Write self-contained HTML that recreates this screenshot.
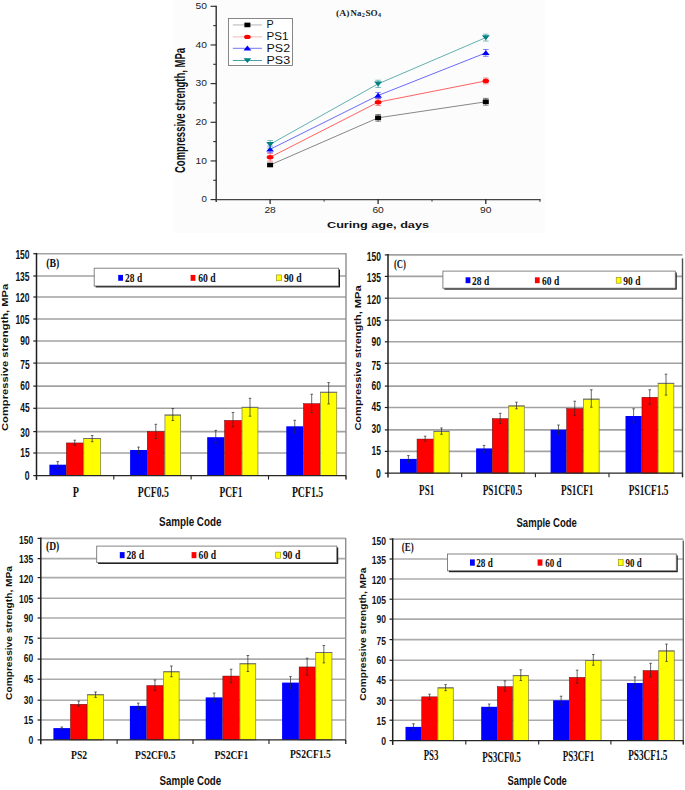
<!DOCTYPE html>
<html><head><meta charset="utf-8"><title>Compressive strength charts</title>
<style>html,body{margin:0;padding:0;background:#fff;}body{width:685px;height:790px;overflow:hidden;font-family:"Liberation Sans",sans-serif;}svg{display:block;}</style></head><body>

<svg width="685" height="790" viewBox="0 0 685 790">
<rect x="0" y="0" width="685" height="790" fill="#ffffff" stroke="none" stroke-width="0"/>
<rect x="174" y="0" width="370.5" height="233" fill="#fcfcfc" stroke="none" stroke-width="0"/>
<line x1="216.2" y1="5.7" x2="216.2" y2="201.9" stroke="#222" stroke-width="1.3"/>
<line x1="215.6" y1="199.6" x2="540.3" y2="199.6" stroke="#444" stroke-width="1.3"/>
<line x1="540" y1="199" x2="540" y2="201.8" stroke="#444" stroke-width="1.2"/>
<line x1="210.6" y1="199.6" x2="216.2" y2="199.6" stroke="#222" stroke-width="1.1"/>
<text x="207" y="202.2" font-family="'Liberation Sans', sans-serif" font-size="8.6" font-weight="normal" text-anchor="end" fill="#222" textLength="5.4" lengthAdjust="spacingAndGlyphs">0</text>
<line x1="210.6" y1="160.94" x2="216.2" y2="160.94" stroke="#222" stroke-width="1.1"/>
<text x="207" y="163.54" font-family="'Liberation Sans', sans-serif" font-size="8.6" font-weight="normal" text-anchor="end" fill="#222" textLength="11.4" lengthAdjust="spacingAndGlyphs">10</text>
<line x1="210.6" y1="122.28" x2="216.2" y2="122.28" stroke="#222" stroke-width="1.1"/>
<text x="207" y="124.88" font-family="'Liberation Sans', sans-serif" font-size="8.6" font-weight="normal" text-anchor="end" fill="#222" textLength="11.4" lengthAdjust="spacingAndGlyphs">20</text>
<line x1="210.6" y1="83.62" x2="216.2" y2="83.62" stroke="#222" stroke-width="1.1"/>
<text x="207" y="86.22" font-family="'Liberation Sans', sans-serif" font-size="8.6" font-weight="normal" text-anchor="end" fill="#222" textLength="11.4" lengthAdjust="spacingAndGlyphs">30</text>
<line x1="210.6" y1="44.96" x2="216.2" y2="44.96" stroke="#222" stroke-width="1.1"/>
<text x="207" y="47.56" font-family="'Liberation Sans', sans-serif" font-size="8.6" font-weight="normal" text-anchor="end" fill="#222" textLength="11.4" lengthAdjust="spacingAndGlyphs">40</text>
<line x1="210.6" y1="6.3" x2="216.2" y2="6.3" stroke="#222" stroke-width="1.1"/>
<text x="207" y="8.9" font-family="'Liberation Sans', sans-serif" font-size="8.6" font-weight="normal" text-anchor="end" fill="#222" textLength="11.4" lengthAdjust="spacingAndGlyphs">50</text>
<line x1="213.2" y1="180.27" x2="216.2" y2="180.27" stroke="#222" stroke-width="1"/>
<line x1="213.2" y1="141.61" x2="216.2" y2="141.61" stroke="#222" stroke-width="1"/>
<line x1="213.2" y1="102.95" x2="216.2" y2="102.95" stroke="#222" stroke-width="1"/>
<line x1="213.2" y1="64.29" x2="216.2" y2="64.29" stroke="#222" stroke-width="1"/>
<line x1="213.2" y1="25.63" x2="216.2" y2="25.63" stroke="#222" stroke-width="1"/>
<line x1="270.1" y1="199.6" x2="270.1" y2="203.9" stroke="#1a1a1a" stroke-width="1.2"/>
<line x1="378.1" y1="199.6" x2="378.1" y2="203.9" stroke="#1a1a1a" stroke-width="1.2"/>
<line x1="485.8" y1="199.6" x2="485.8" y2="203.9" stroke="#1a1a1a" stroke-width="1.2"/>
<line x1="324.1" y1="199.6" x2="324.1" y2="201.6" stroke="#333" stroke-width="1"/>
<line x1="432" y1="199.6" x2="432" y2="201.6" stroke="#333" stroke-width="1"/>
<text x="270.1" y="212.8" font-family="'Liberation Sans', sans-serif" font-size="8.2" font-weight="normal" text-anchor="middle" fill="#222" textLength="11.4" lengthAdjust="spacingAndGlyphs">28</text>
<text x="378.1" y="212.8" font-family="'Liberation Sans', sans-serif" font-size="8.2" font-weight="normal" text-anchor="middle" fill="#222" textLength="11.4" lengthAdjust="spacingAndGlyphs">60</text>
<text x="485.8" y="212.8" font-family="'Liberation Sans', sans-serif" font-size="8.2" font-weight="normal" text-anchor="middle" fill="#222" textLength="11.4" lengthAdjust="spacingAndGlyphs">90</text>
<text x="327" y="228" font-family="'Liberation Sans', sans-serif" font-size="9.3" font-weight="bold" text-anchor="start" fill="#111" textLength="102" lengthAdjust="spacingAndGlyphs">Curing age, days</text>
<text transform="translate(185.4,110.5) rotate(-90)" x="0" y="0" font-family="'Liberation Sans', sans-serif" font-size="14" font-weight="bold" text-anchor="middle" fill="#111" textLength="125" lengthAdjust="spacingAndGlyphs">Compressive strength, MPa</text>
<text x="336" y="16.4" font-family="'Liberation Serif', serif" font-size="8.6" font-weight="bold" text-anchor="start" fill="#222" textLength="13.4" lengthAdjust="spacingAndGlyphs">(A)</text>
<text x="350.6" y="16.4" font-family="'Liberation Serif', serif" font-size="8.6" font-weight="bold" text-anchor="start" fill="#222" textLength="10.8" lengthAdjust="spacingAndGlyphs">Na</text>
<text x="361.7" y="17.4" font-family="'Liberation Serif', serif" font-size="5.4" font-weight="bold" text-anchor="start" fill="#222" textLength="3.1" lengthAdjust="spacingAndGlyphs">2</text>
<text x="365.5" y="16.4" font-family="'Liberation Serif', serif" font-size="8.6" font-weight="bold" text-anchor="start" fill="#222" textLength="12.2" lengthAdjust="spacingAndGlyphs">SO</text>
<text x="377.9" y="17.4" font-family="'Liberation Serif', serif" font-size="5.4" font-weight="bold" text-anchor="start" fill="#222" textLength="3" lengthAdjust="spacingAndGlyphs">4</text>
<polyline points="270.1,165 378.1,117.83 485.8,101.79" fill="none" stroke="#555555" stroke-width="0.7"/>
<polyline points="270.1,157.27 378.1,102.18 485.8,80.91" fill="none" stroke="#ff2020" stroke-width="0.7"/>
<polyline points="270.1,149.34 378.1,95.49 485.8,52.89" fill="none" stroke="#2a2aff" stroke-width="0.7"/>
<polyline points="270.1,144.32 378.1,83.85 485.8,37.61" fill="none" stroke="#208f8f" stroke-width="0.7"/>
<line x1="270.1" y1="163.84" x2="270.1" y2="166.16" stroke="#000000" stroke-width="0.7" opacity="0.7"/>
<line x1="267.3" y1="163.84" x2="272.9" y2="163.84" stroke="#000000" stroke-width="0.8" opacity="0.6"/>
<line x1="267.3" y1="166.16" x2="272.9" y2="166.16" stroke="#000000" stroke-width="0.8" opacity="0.6"/>
<rect x="267.1" y="162.7" width="6" height="4.6" fill="#000000" stroke="none" stroke-width="0"/>
<line x1="378.1" y1="114.47" x2="378.1" y2="121.2" stroke="#000000" stroke-width="0.7" opacity="0.7"/>
<line x1="375.3" y1="114.47" x2="380.9" y2="114.47" stroke="#000000" stroke-width="0.8" opacity="0.6"/>
<line x1="375.3" y1="121.2" x2="380.9" y2="121.2" stroke="#000000" stroke-width="0.8" opacity="0.6"/>
<rect x="375.1" y="115.53" width="6" height="4.6" fill="#000000" stroke="none" stroke-width="0"/>
<line x1="485.8" y1="98.39" x2="485.8" y2="105.19" stroke="#000000" stroke-width="0.7" opacity="0.7"/>
<line x1="483" y1="98.39" x2="488.6" y2="98.39" stroke="#000000" stroke-width="0.8" opacity="0.6"/>
<line x1="483" y1="105.19" x2="488.6" y2="105.19" stroke="#000000" stroke-width="0.8" opacity="0.6"/>
<rect x="482.8" y="99.49" width="6" height="4.6" fill="#000000" stroke="none" stroke-width="0"/>
<line x1="270.1" y1="153.4" x2="270.1" y2="161.13" stroke="#ff0000" stroke-width="0.7" opacity="0.7"/>
<line x1="267.3" y1="153.4" x2="272.9" y2="153.4" stroke="#ff0000" stroke-width="0.8" opacity="0.6"/>
<line x1="267.3" y1="161.13" x2="272.9" y2="161.13" stroke="#ff0000" stroke-width="0.8" opacity="0.6"/>
<ellipse cx="270.1" cy="157.27" rx="3.3" ry="2.2" fill="#ff0000"/>
<line x1="378.1" y1="98.97" x2="378.1" y2="105.39" stroke="#ff0000" stroke-width="0.7" opacity="0.7"/>
<line x1="375.3" y1="98.97" x2="380.9" y2="98.97" stroke="#ff0000" stroke-width="0.8" opacity="0.6"/>
<line x1="375.3" y1="105.39" x2="380.9" y2="105.39" stroke="#ff0000" stroke-width="0.8" opacity="0.6"/>
<ellipse cx="378.1" cy="102.18" rx="3.3" ry="2.2" fill="#ff0000"/>
<line x1="485.8" y1="78.05" x2="485.8" y2="83.77" stroke="#ff0000" stroke-width="0.7" opacity="0.7"/>
<line x1="483" y1="78.05" x2="488.6" y2="78.05" stroke="#ff0000" stroke-width="0.8" opacity="0.6"/>
<line x1="483" y1="83.77" x2="488.6" y2="83.77" stroke="#ff0000" stroke-width="0.8" opacity="0.6"/>
<ellipse cx="485.8" cy="80.91" rx="3.3" ry="2.2" fill="#ff0000"/>
<line x1="270.1" y1="146.06" x2="270.1" y2="152.63" stroke="#0000ff" stroke-width="0.7" opacity="0.7"/>
<line x1="267.3" y1="146.06" x2="272.9" y2="146.06" stroke="#0000ff" stroke-width="0.8" opacity="0.6"/>
<line x1="267.3" y1="152.63" x2="272.9" y2="152.63" stroke="#0000ff" stroke-width="0.8" opacity="0.6"/>
<polygon points="270.1,146.64 266.2,151.54 274,151.54" fill="#0000ff"/>
<line x1="378.1" y1="92.4" x2="378.1" y2="98.58" stroke="#0000ff" stroke-width="0.7" opacity="0.7"/>
<line x1="375.3" y1="92.4" x2="380.9" y2="92.4" stroke="#0000ff" stroke-width="0.8" opacity="0.6"/>
<line x1="375.3" y1="98.58" x2="380.9" y2="98.58" stroke="#0000ff" stroke-width="0.8" opacity="0.6"/>
<polygon points="378.1,92.79 374.2,97.69 382,97.69" fill="#0000ff"/>
<line x1="485.8" y1="49.48" x2="485.8" y2="56.29" stroke="#0000ff" stroke-width="0.7" opacity="0.7"/>
<line x1="483" y1="49.48" x2="488.6" y2="49.48" stroke="#0000ff" stroke-width="0.8" opacity="0.6"/>
<line x1="483" y1="56.29" x2="488.6" y2="56.29" stroke="#0000ff" stroke-width="0.8" opacity="0.6"/>
<polygon points="485.8,50.19 481.9,55.09 489.7,55.09" fill="#0000ff"/>
<line x1="270.1" y1="140.45" x2="270.1" y2="148.18" stroke="#008080" stroke-width="0.7" opacity="0.7"/>
<line x1="267.3" y1="140.45" x2="272.9" y2="140.45" stroke="#008080" stroke-width="0.8" opacity="0.6"/>
<line x1="267.3" y1="148.18" x2="272.9" y2="148.18" stroke="#008080" stroke-width="0.8" opacity="0.6"/>
<polygon points="266.2,142.02 274,142.02 270.1,146.92" fill="#008080"/>
<line x1="378.1" y1="80.22" x2="378.1" y2="87.49" stroke="#008080" stroke-width="0.7" opacity="0.7"/>
<line x1="375.3" y1="80.22" x2="380.9" y2="80.22" stroke="#008080" stroke-width="0.8" opacity="0.6"/>
<line x1="375.3" y1="87.49" x2="380.9" y2="87.49" stroke="#008080" stroke-width="0.8" opacity="0.6"/>
<polygon points="374.2,81.55 382,81.55 378.1,86.45" fill="#008080"/>
<line x1="485.8" y1="34.17" x2="485.8" y2="41.06" stroke="#008080" stroke-width="0.7" opacity="0.7"/>
<line x1="483" y1="34.17" x2="488.6" y2="34.17" stroke="#008080" stroke-width="0.8" opacity="0.6"/>
<line x1="483" y1="41.06" x2="488.6" y2="41.06" stroke="#008080" stroke-width="0.8" opacity="0.6"/>
<polygon points="481.9,35.31 489.7,35.31 485.8,40.21" fill="#008080"/>
<rect x="228.4" y="18.4" width="64.2" height="47.1" fill="#ffffff" stroke="#6a6a6a" stroke-width="0.8"/>
<line x1="232.8" y1="24.95" x2="262" y2="24.95" stroke="#aaaaaa" stroke-width="0.9"/>
<rect x="244.4" y="22.65" width="6" height="4.6" fill="#000000" stroke="none" stroke-width="0"/>
<text x="266.5" y="28.45" font-family="'Liberation Sans', sans-serif" font-size="10.2" font-weight="normal" text-anchor="start" fill="#111" textLength="7.2" lengthAdjust="spacingAndGlyphs">P</text>
<line x1="232.8" y1="36.9" x2="262" y2="36.9" stroke="#f4b0b0" stroke-width="0.9"/>
<ellipse cx="247.4" cy="36.9" rx="3.3" ry="2.2" fill="#ff0000"/>
<text x="266.5" y="40.4" font-family="'Liberation Sans', sans-serif" font-size="10.2" font-weight="normal" text-anchor="start" fill="#111" textLength="22" lengthAdjust="spacingAndGlyphs">PS1</text>
<line x1="232.8" y1="48.3" x2="262" y2="48.3" stroke="#6666ee" stroke-width="0.9"/>
<polygon points="247.4,45.6 243.5,50.5 251.3,50.5" fill="#0000ff"/>
<text x="266.5" y="51.8" font-family="'Liberation Sans', sans-serif" font-size="10.2" font-weight="normal" text-anchor="start" fill="#111" textLength="23.6" lengthAdjust="spacingAndGlyphs">PS2</text>
<line x1="232.8" y1="60.5" x2="262" y2="60.5" stroke="#3a9a9a" stroke-width="0.9"/>
<polygon points="243.5,58.2 251.3,58.2 247.4,63.1" fill="#008080"/>
<text x="266.5" y="64" font-family="'Liberation Sans', sans-serif" font-size="10.2" font-weight="normal" text-anchor="start" fill="#111" textLength="23.6" lengthAdjust="spacingAndGlyphs">PS3</text>
<line x1="36.5" y1="453" x2="346" y2="453" stroke="#a2a2a2" stroke-width="1.6"/>
<line x1="36.5" y1="431.6" x2="346" y2="431.6" stroke="#a2a2a2" stroke-width="1.6"/>
<line x1="36.5" y1="408.3" x2="346" y2="408.3" stroke="#a2a2a2" stroke-width="1.6"/>
<line x1="36.5" y1="386.1" x2="346" y2="386.1" stroke="#a2a2a2" stroke-width="1.6"/>
<line x1="36.5" y1="363.1" x2="346" y2="363.1" stroke="#a2a2a2" stroke-width="1.6"/>
<line x1="36.5" y1="341" x2="346" y2="341" stroke="#a2a2a2" stroke-width="1.6"/>
<line x1="36.5" y1="319" x2="346" y2="319" stroke="#a2a2a2" stroke-width="1.6"/>
<line x1="36.5" y1="297" x2="346" y2="297" stroke="#a2a2a2" stroke-width="1.6"/>
<line x1="36.5" y1="276" x2="346" y2="276" stroke="#a2a2a2" stroke-width="1.6"/>
<line x1="36.5" y1="253.7" x2="346" y2="253.7" stroke="#a2a2a2" stroke-width="1.6"/>
<line x1="346" y1="253.2" x2="346" y2="479.6" stroke="#8e8e8e" stroke-width="1.4"/>
<rect x="95.6" y="269.6" width="244.4" height="17.8" fill="#0a0a0a" stroke="none" stroke-width="0"/>
<rect x="94.2" y="268.2" width="244.4" height="17.8" fill="#ffffff" stroke="#777" stroke-width="0.9"/>
<rect x="118.2" y="274.9" width="4.8" height="5.9" fill="#0000ff" stroke="none" stroke-width="0"/>
<text x="125.1" y="282" font-family="'Liberation Serif', serif" font-size="13.2" font-weight="bold" text-anchor="start" fill="#111" textLength="17.1" lengthAdjust="spacingAndGlyphs">28 d</text>
<rect x="190.6" y="274.9" width="4.8" height="5.9" fill="#ff0000" stroke="none" stroke-width="0"/>
<text x="198.2" y="282" font-family="'Liberation Serif', serif" font-size="13.2" font-weight="bold" text-anchor="start" fill="#111" textLength="17.4" lengthAdjust="spacingAndGlyphs">60 d</text>
<rect x="276.6" y="274.9" width="4.8" height="5.9" fill="#ffff00" stroke="#8a8a20" stroke-width="0.6"/>
<text x="284" y="282" font-family="'Liberation Serif', serif" font-size="13.2" font-weight="bold" text-anchor="start" fill="#111" textLength="17.6" lengthAdjust="spacingAndGlyphs">90 d</text>
<rect x="49.4" y="464.7" width="16.7" height="10.9" fill="#0000ff" stroke="none" stroke-width="0"/>
<line x1="57.75" y1="461.6" x2="57.75" y2="468.3" stroke="#2a2a2a" stroke-width="0.7"/>
<line x1="56.45" y1="461.6" x2="59.05" y2="461.6" stroke="#2a2a2a" stroke-width="0.7"/>
<line x1="56.45" y1="468.3" x2="59.05" y2="468.3" stroke="#2a2a2a" stroke-width="0.7"/>
<rect x="66.35" y="442.95" width="16.8" height="32.65" fill="#ff0000" stroke="#5a1010" stroke-width="0.5"/>
<line x1="74.75" y1="440.2" x2="74.75" y2="445.2" stroke="#2a2a2a" stroke-width="0.7"/>
<line x1="73.45" y1="440.2" x2="76.05" y2="440.2" stroke="#2a2a2a" stroke-width="0.7"/>
<line x1="73.45" y1="445.2" x2="76.05" y2="445.2" stroke="#2a2a2a" stroke-width="0.7"/>
<rect x="83.75" y="438.65" width="16.9" height="36.95" fill="#ffff00" stroke="#7a7a40" stroke-width="0.7"/>
<line x1="83.4" y1="438.5" x2="101" y2="438.5" stroke="#707070" stroke-width="1"/>
<line x1="92.2" y1="435.5" x2="92.2" y2="441.7" stroke="#2a2a2a" stroke-width="0.7"/>
<line x1="90.9" y1="435.5" x2="93.5" y2="435.5" stroke="#2a2a2a" stroke-width="0.7"/>
<line x1="90.9" y1="441.7" x2="93.5" y2="441.7" stroke="#2a2a2a" stroke-width="0.7"/>
<rect x="130.1" y="450" width="16.9" height="25.6" fill="#0000ff" stroke="none" stroke-width="0"/>
<line x1="138.55" y1="447.1" x2="138.55" y2="453.4" stroke="#2a2a2a" stroke-width="0.7"/>
<line x1="137.25" y1="447.1" x2="139.85" y2="447.1" stroke="#2a2a2a" stroke-width="0.7"/>
<line x1="137.25" y1="453.4" x2="139.85" y2="453.4" stroke="#2a2a2a" stroke-width="0.7"/>
<rect x="147.25" y="431.55" width="17.1" height="44.05" fill="#ff0000" stroke="#5a1010" stroke-width="0.5"/>
<line x1="155.8" y1="424.3" x2="155.8" y2="438.5" stroke="#2a2a2a" stroke-width="0.7"/>
<line x1="154.5" y1="424.3" x2="157.1" y2="424.3" stroke="#2a2a2a" stroke-width="0.7"/>
<line x1="154.5" y1="438.5" x2="157.1" y2="438.5" stroke="#2a2a2a" stroke-width="0.7"/>
<rect x="164.95" y="415.15" width="15.7" height="60.45" fill="#ffff00" stroke="#7a7a40" stroke-width="0.7"/>
<line x1="164.6" y1="415" x2="181" y2="415" stroke="#707070" stroke-width="1"/>
<line x1="172.8" y1="408.5" x2="172.8" y2="420.5" stroke="#2a2a2a" stroke-width="0.7"/>
<line x1="171.5" y1="408.5" x2="174.1" y2="408.5" stroke="#2a2a2a" stroke-width="0.7"/>
<line x1="171.5" y1="420.5" x2="174.1" y2="420.5" stroke="#2a2a2a" stroke-width="0.7"/>
<rect x="207.2" y="437.2" width="17.1" height="38.4" fill="#0000ff" stroke="none" stroke-width="0"/>
<line x1="215.75" y1="430.4" x2="215.75" y2="443" stroke="#2a2a2a" stroke-width="0.7"/>
<line x1="214.45" y1="430.4" x2="217.05" y2="430.4" stroke="#2a2a2a" stroke-width="0.7"/>
<line x1="214.45" y1="443" x2="217.05" y2="443" stroke="#2a2a2a" stroke-width="0.7"/>
<rect x="224.55" y="420.35" width="16.9" height="55.25" fill="#ff0000" stroke="#5a1010" stroke-width="0.5"/>
<line x1="233" y1="412.5" x2="233" y2="426.8" stroke="#2a2a2a" stroke-width="0.7"/>
<line x1="231.7" y1="412.5" x2="234.3" y2="412.5" stroke="#2a2a2a" stroke-width="0.7"/>
<line x1="231.7" y1="426.8" x2="234.3" y2="426.8" stroke="#2a2a2a" stroke-width="0.7"/>
<rect x="242.05" y="407.45" width="15.9" height="68.15" fill="#ffff00" stroke="#7a7a40" stroke-width="0.7"/>
<line x1="241.7" y1="407.3" x2="258.3" y2="407.3" stroke="#707070" stroke-width="1"/>
<line x1="250" y1="398.3" x2="250" y2="416.2" stroke="#2a2a2a" stroke-width="0.7"/>
<line x1="248.7" y1="398.3" x2="251.3" y2="398.3" stroke="#2a2a2a" stroke-width="0.7"/>
<line x1="248.7" y1="416.2" x2="251.3" y2="416.2" stroke="#2a2a2a" stroke-width="0.7"/>
<rect x="286.3" y="426.3" width="16.9" height="49.3" fill="#0000ff" stroke="none" stroke-width="0"/>
<line x1="294.75" y1="420.3" x2="294.75" y2="432.8" stroke="#2a2a2a" stroke-width="0.7"/>
<line x1="293.45" y1="420.3" x2="296.05" y2="420.3" stroke="#2a2a2a" stroke-width="0.7"/>
<line x1="293.45" y1="432.8" x2="296.05" y2="432.8" stroke="#2a2a2a" stroke-width="0.7"/>
<rect x="303.45" y="403.65" width="16.5" height="71.95" fill="#ff0000" stroke="#5a1010" stroke-width="0.5"/>
<line x1="311.7" y1="394.2" x2="311.7" y2="412.6" stroke="#2a2a2a" stroke-width="0.7"/>
<line x1="310.4" y1="394.2" x2="313" y2="394.2" stroke="#2a2a2a" stroke-width="0.7"/>
<line x1="310.4" y1="412.6" x2="313" y2="412.6" stroke="#2a2a2a" stroke-width="0.7"/>
<rect x="320.55" y="392.35" width="16.2" height="83.25" fill="#ffff00" stroke="#7a7a40" stroke-width="0.7"/>
<line x1="320.2" y1="392.2" x2="337.1" y2="392.2" stroke="#707070" stroke-width="1"/>
<line x1="328.65" y1="382.6" x2="328.65" y2="403.9" stroke="#2a2a2a" stroke-width="0.7"/>
<line x1="327.35" y1="382.6" x2="329.95" y2="382.6" stroke="#2a2a2a" stroke-width="0.7"/>
<line x1="327.35" y1="403.9" x2="329.95" y2="403.9" stroke="#2a2a2a" stroke-width="0.7"/>
<line x1="36.5" y1="252.9" x2="36.5" y2="479.9" stroke="#1e1e1e" stroke-width="1.5"/>
<line x1="35.8" y1="475.6" x2="346" y2="475.6" stroke="#262626" stroke-width="1.3"/>
<line x1="33.3" y1="475.6" x2="36.5" y2="475.6" stroke="#1e1e1e" stroke-width="1.2"/>
<line x1="33.3" y1="453" x2="36.5" y2="453" stroke="#1e1e1e" stroke-width="1.2"/>
<line x1="33.3" y1="431.6" x2="36.5" y2="431.6" stroke="#1e1e1e" stroke-width="1.2"/>
<line x1="33.3" y1="408.3" x2="36.5" y2="408.3" stroke="#1e1e1e" stroke-width="1.2"/>
<line x1="33.3" y1="386.1" x2="36.5" y2="386.1" stroke="#1e1e1e" stroke-width="1.2"/>
<line x1="33.3" y1="363.1" x2="36.5" y2="363.1" stroke="#1e1e1e" stroke-width="1.2"/>
<line x1="33.3" y1="341" x2="36.5" y2="341" stroke="#1e1e1e" stroke-width="1.2"/>
<line x1="33.3" y1="319" x2="36.5" y2="319" stroke="#1e1e1e" stroke-width="1.2"/>
<line x1="33.3" y1="297" x2="36.5" y2="297" stroke="#1e1e1e" stroke-width="1.2"/>
<line x1="33.3" y1="276" x2="36.5" y2="276" stroke="#1e1e1e" stroke-width="1.2"/>
<line x1="33.3" y1="253.7" x2="36.5" y2="253.7" stroke="#1e1e1e" stroke-width="1.2"/>
<line x1="113.8" y1="475.6" x2="113.8" y2="479.6" stroke="#222" stroke-width="1.1"/>
<line x1="191.1" y1="475.6" x2="191.1" y2="479.6" stroke="#222" stroke-width="1.1"/>
<line x1="268.5" y1="475.6" x2="268.5" y2="479.6" stroke="#222" stroke-width="1.1"/>
<line x1="346" y1="475.6" x2="346" y2="479.6" stroke="#222" stroke-width="1.1"/>
<text x="29.6" y="480.1" font-family="'Liberation Sans', sans-serif" font-size="12" font-weight="bold" text-anchor="end" fill="#111" textLength="4.8" lengthAdjust="spacingAndGlyphs">0</text>
<text x="29.6" y="457.2" font-family="'Liberation Sans', sans-serif" font-size="12" font-weight="bold" text-anchor="end" fill="#111" textLength="9.4" lengthAdjust="spacingAndGlyphs">15</text>
<text x="29.6" y="436.6" font-family="'Liberation Sans', sans-serif" font-size="12" font-weight="bold" text-anchor="end" fill="#111" textLength="9.4" lengthAdjust="spacingAndGlyphs">30</text>
<text x="29.6" y="412.2" font-family="'Liberation Sans', sans-serif" font-size="12" font-weight="bold" text-anchor="end" fill="#111" textLength="9.4" lengthAdjust="spacingAndGlyphs">45</text>
<text x="29.6" y="390" font-family="'Liberation Sans', sans-serif" font-size="12" font-weight="bold" text-anchor="end" fill="#111" textLength="9.4" lengthAdjust="spacingAndGlyphs">60</text>
<text x="29.6" y="368.8" font-family="'Liberation Sans', sans-serif" font-size="12" font-weight="bold" text-anchor="end" fill="#111" textLength="9.4" lengthAdjust="spacingAndGlyphs">75</text>
<text x="29.6" y="345.1" font-family="'Liberation Sans', sans-serif" font-size="12" font-weight="bold" text-anchor="end" fill="#111" textLength="9.4" lengthAdjust="spacingAndGlyphs">90</text>
<text x="29.6" y="324.2" font-family="'Liberation Sans', sans-serif" font-size="12" font-weight="bold" text-anchor="end" fill="#111" textLength="14.2" lengthAdjust="spacingAndGlyphs">105</text>
<text x="29.6" y="302" font-family="'Liberation Sans', sans-serif" font-size="12" font-weight="bold" text-anchor="end" fill="#111" textLength="14.2" lengthAdjust="spacingAndGlyphs">120</text>
<text x="29.6" y="280.7" font-family="'Liberation Sans', sans-serif" font-size="12" font-weight="bold" text-anchor="end" fill="#111" textLength="14.2" lengthAdjust="spacingAndGlyphs">135</text>
<text x="29.6" y="259.4" font-family="'Liberation Sans', sans-serif" font-size="12" font-weight="bold" text-anchor="end" fill="#111" textLength="14.2" lengthAdjust="spacingAndGlyphs">150</text>
<text transform="translate(7.6,357.4) rotate(-90)" x="0" y="0" font-family="'Liberation Sans', sans-serif" font-size="8.8" font-weight="bold" text-anchor="middle" fill="#111" textLength="147.2" lengthAdjust="spacingAndGlyphs">Compressive strength, MPa</text>
<text x="46.3" y="267.2" font-family="'Liberation Serif', serif" font-size="12" font-weight="bold" text-anchor="start" fill="#111" textLength="13.1" lengthAdjust="spacingAndGlyphs">(B)</text>
<text x="72.8" y="497.4" font-family="'Liberation Serif', serif" font-size="14.2" font-weight="bold" text-anchor="start" fill="#111" textLength="6.2" lengthAdjust="spacingAndGlyphs">P</text>
<text x="137.7" y="497.2" font-family="'Liberation Serif', serif" font-size="14.2" font-weight="bold" text-anchor="start" fill="#111" textLength="31.2" lengthAdjust="spacingAndGlyphs">PCF0.5</text>
<text x="219.5" y="497" font-family="'Liberation Serif', serif" font-size="14.2" font-weight="bold" text-anchor="start" fill="#111" textLength="23" lengthAdjust="spacingAndGlyphs">PCF1</text>
<text x="291.9" y="497" font-family="'Liberation Serif', serif" font-size="14.2" font-weight="bold" text-anchor="start" fill="#111" textLength="31.2" lengthAdjust="spacingAndGlyphs">PCF1.5</text>
<text x="159.1" y="526" font-family="'Liberation Sans', sans-serif" font-size="12.6" font-weight="bold" text-anchor="start" fill="#111" textLength="62.4" lengthAdjust="spacingAndGlyphs">Sample Code</text>
<line x1="388" y1="451.4" x2="682.5" y2="451.4" stroke="#a2a2a2" stroke-width="1.6"/>
<line x1="388" y1="429.9" x2="682.5" y2="429.9" stroke="#a2a2a2" stroke-width="1.6"/>
<line x1="388" y1="407.5" x2="682.5" y2="407.5" stroke="#a2a2a2" stroke-width="1.6"/>
<line x1="388" y1="386.1" x2="682.5" y2="386.1" stroke="#a2a2a2" stroke-width="1.6"/>
<line x1="388" y1="363.3" x2="682.5" y2="363.3" stroke="#a2a2a2" stroke-width="1.6"/>
<line x1="388" y1="341.8" x2="682.5" y2="341.8" stroke="#a2a2a2" stroke-width="1.6"/>
<line x1="388" y1="320.2" x2="682.5" y2="320.2" stroke="#a2a2a2" stroke-width="1.6"/>
<line x1="388" y1="298.2" x2="682.5" y2="298.2" stroke="#a2a2a2" stroke-width="1.6"/>
<line x1="388" y1="276.4" x2="682.5" y2="276.4" stroke="#a2a2a2" stroke-width="1.6"/>
<line x1="388" y1="254.9" x2="682.5" y2="254.9" stroke="#a2a2a2" stroke-width="1.6"/>
<line x1="682.5" y1="258.4" x2="682.5" y2="477.2" stroke="#505050" stroke-width="1.4"/>
<rect x="444.3" y="272.5" width="232.4" height="17.1" fill="#0a0a0a" stroke="none" stroke-width="0"/>
<rect x="442.9" y="271.1" width="232.4" height="17.1" fill="#ffffff" stroke="#777" stroke-width="0.9"/>
<rect x="465.6" y="277.3" width="4.8" height="5.9" fill="#0000ff" stroke="none" stroke-width="0"/>
<text x="472.1" y="284.7" font-family="'Liberation Serif', serif" font-size="13.2" font-weight="bold" text-anchor="start" fill="#111" textLength="17.1" lengthAdjust="spacingAndGlyphs">28 d</text>
<rect x="534.9" y="277.3" width="4.8" height="5.9" fill="#ff0000" stroke="none" stroke-width="0"/>
<text x="542" y="284.7" font-family="'Liberation Serif', serif" font-size="13.2" font-weight="bold" text-anchor="start" fill="#111" textLength="17.2" lengthAdjust="spacingAndGlyphs">60 d</text>
<rect x="616.2" y="277.3" width="4.8" height="5.9" fill="#ffff00" stroke="#8a8a20" stroke-width="0.6"/>
<text x="623.3" y="284.7" font-family="'Liberation Serif', serif" font-size="13.2" font-weight="bold" text-anchor="start" fill="#111" textLength="17.1" lengthAdjust="spacingAndGlyphs">90 d</text>
<rect x="400" y="458.9" width="16.8" height="14.3" fill="#0000ff" stroke="none" stroke-width="0"/>
<line x1="408.4" y1="455.6" x2="408.4" y2="462.3" stroke="#2a2a2a" stroke-width="0.7"/>
<line x1="407.1" y1="455.6" x2="409.7" y2="455.6" stroke="#2a2a2a" stroke-width="0.7"/>
<line x1="407.1" y1="462.3" x2="409.7" y2="462.3" stroke="#2a2a2a" stroke-width="0.7"/>
<rect x="417.05" y="439.05" width="16.2" height="34.15" fill="#ff0000" stroke="#5a1010" stroke-width="0.5"/>
<line x1="425.15" y1="436.2" x2="425.15" y2="441.3" stroke="#2a2a2a" stroke-width="0.7"/>
<line x1="423.85" y1="436.2" x2="426.45" y2="436.2" stroke="#2a2a2a" stroke-width="0.7"/>
<line x1="423.85" y1="441.3" x2="426.45" y2="441.3" stroke="#2a2a2a" stroke-width="0.7"/>
<rect x="433.85" y="431.45" width="15.3" height="41.75" fill="#ffff00" stroke="#7a7a40" stroke-width="0.7"/>
<line x1="433.5" y1="431.3" x2="449.5" y2="431.3" stroke="#707070" stroke-width="1"/>
<line x1="441.5" y1="428" x2="441.5" y2="434.3" stroke="#2a2a2a" stroke-width="0.7"/>
<line x1="440.2" y1="428" x2="442.8" y2="428" stroke="#2a2a2a" stroke-width="0.7"/>
<line x1="440.2" y1="434.3" x2="442.8" y2="434.3" stroke="#2a2a2a" stroke-width="0.7"/>
<rect x="476.1" y="448.4" width="15.9" height="24.8" fill="#0000ff" stroke="none" stroke-width="0"/>
<line x1="484.05" y1="445.4" x2="484.05" y2="452.1" stroke="#2a2a2a" stroke-width="0.7"/>
<line x1="482.75" y1="445.4" x2="485.35" y2="445.4" stroke="#2a2a2a" stroke-width="0.7"/>
<line x1="482.75" y1="452.1" x2="485.35" y2="452.1" stroke="#2a2a2a" stroke-width="0.7"/>
<rect x="492.25" y="418.65" width="15.9" height="54.55" fill="#ff0000" stroke="#5a1010" stroke-width="0.5"/>
<line x1="500.2" y1="413.3" x2="500.2" y2="423.5" stroke="#2a2a2a" stroke-width="0.7"/>
<line x1="498.9" y1="413.3" x2="501.5" y2="413.3" stroke="#2a2a2a" stroke-width="0.7"/>
<line x1="498.9" y1="423.5" x2="501.5" y2="423.5" stroke="#2a2a2a" stroke-width="0.7"/>
<rect x="508.75" y="406.05" width="15.5" height="67.15" fill="#ffff00" stroke="#7a7a40" stroke-width="0.7"/>
<line x1="508.4" y1="405.9" x2="524.6" y2="405.9" stroke="#707070" stroke-width="1"/>
<line x1="516.5" y1="402.2" x2="516.5" y2="408.8" stroke="#2a2a2a" stroke-width="0.7"/>
<line x1="515.2" y1="402.2" x2="517.8" y2="402.2" stroke="#2a2a2a" stroke-width="0.7"/>
<line x1="515.2" y1="408.8" x2="517.8" y2="408.8" stroke="#2a2a2a" stroke-width="0.7"/>
<rect x="550.6" y="429.7" width="15.8" height="43.5" fill="#0000ff" stroke="none" stroke-width="0"/>
<line x1="558.5" y1="425" x2="558.5" y2="434.6" stroke="#2a2a2a" stroke-width="0.7"/>
<line x1="557.2" y1="425" x2="559.8" y2="425" stroke="#2a2a2a" stroke-width="0.7"/>
<line x1="557.2" y1="434.6" x2="559.8" y2="434.6" stroke="#2a2a2a" stroke-width="0.7"/>
<rect x="566.65" y="408.55" width="16.2" height="64.65" fill="#ff0000" stroke="#5a1010" stroke-width="0.5"/>
<line x1="574.75" y1="401.2" x2="574.75" y2="415.3" stroke="#2a2a2a" stroke-width="0.7"/>
<line x1="573.45" y1="401.2" x2="576.05" y2="401.2" stroke="#2a2a2a" stroke-width="0.7"/>
<line x1="573.45" y1="415.3" x2="576.05" y2="415.3" stroke="#2a2a2a" stroke-width="0.7"/>
<rect x="583.45" y="399.25" width="15.7" height="73.95" fill="#ffff00" stroke="#7a7a40" stroke-width="0.7"/>
<line x1="583.1" y1="399.1" x2="599.5" y2="399.1" stroke="#707070" stroke-width="1"/>
<line x1="591.3" y1="389.8" x2="591.3" y2="407.2" stroke="#2a2a2a" stroke-width="0.7"/>
<line x1="590" y1="389.8" x2="592.6" y2="389.8" stroke="#2a2a2a" stroke-width="0.7"/>
<line x1="590" y1="407.2" x2="592.6" y2="407.2" stroke="#2a2a2a" stroke-width="0.7"/>
<rect x="625.5" y="416" width="16.2" height="57.2" fill="#0000ff" stroke="none" stroke-width="0"/>
<line x1="633.6" y1="408.8" x2="633.6" y2="422.1" stroke="#2a2a2a" stroke-width="0.7"/>
<line x1="632.3" y1="408.8" x2="634.9" y2="408.8" stroke="#2a2a2a" stroke-width="0.7"/>
<line x1="632.3" y1="422.1" x2="634.9" y2="422.1" stroke="#2a2a2a" stroke-width="0.7"/>
<rect x="641.95" y="397.25" width="15.6" height="75.95" fill="#ff0000" stroke="#5a1010" stroke-width="0.5"/>
<line x1="649.75" y1="389.8" x2="649.75" y2="404.2" stroke="#2a2a2a" stroke-width="0.7"/>
<line x1="648.45" y1="389.8" x2="651.05" y2="389.8" stroke="#2a2a2a" stroke-width="0.7"/>
<line x1="648.45" y1="404.2" x2="651.05" y2="404.2" stroke="#2a2a2a" stroke-width="0.7"/>
<rect x="658.15" y="383.45" width="15.7" height="89.75" fill="#ffff00" stroke="#7a7a40" stroke-width="0.7"/>
<line x1="657.8" y1="383.3" x2="674.2" y2="383.3" stroke="#707070" stroke-width="1"/>
<line x1="666" y1="374.2" x2="666" y2="395.1" stroke="#2a2a2a" stroke-width="0.7"/>
<line x1="664.7" y1="374.2" x2="667.3" y2="374.2" stroke="#2a2a2a" stroke-width="0.7"/>
<line x1="664.7" y1="395.1" x2="667.3" y2="395.1" stroke="#2a2a2a" stroke-width="0.7"/>
<line x1="388" y1="254.1" x2="388" y2="477.5" stroke="#1e1e1e" stroke-width="1.5"/>
<line x1="387.3" y1="473.2" x2="682.5" y2="473.2" stroke="#262626" stroke-width="1.3"/>
<line x1="384.8" y1="473.2" x2="388" y2="473.2" stroke="#1e1e1e" stroke-width="1.2"/>
<line x1="384.8" y1="451.4" x2="388" y2="451.4" stroke="#1e1e1e" stroke-width="1.2"/>
<line x1="384.8" y1="429.9" x2="388" y2="429.9" stroke="#1e1e1e" stroke-width="1.2"/>
<line x1="384.8" y1="407.5" x2="388" y2="407.5" stroke="#1e1e1e" stroke-width="1.2"/>
<line x1="384.8" y1="386.1" x2="388" y2="386.1" stroke="#1e1e1e" stroke-width="1.2"/>
<line x1="384.8" y1="363.3" x2="388" y2="363.3" stroke="#1e1e1e" stroke-width="1.2"/>
<line x1="384.8" y1="341.8" x2="388" y2="341.8" stroke="#1e1e1e" stroke-width="1.2"/>
<line x1="384.8" y1="320.2" x2="388" y2="320.2" stroke="#1e1e1e" stroke-width="1.2"/>
<line x1="384.8" y1="298.2" x2="388" y2="298.2" stroke="#1e1e1e" stroke-width="1.2"/>
<line x1="384.8" y1="276.4" x2="388" y2="276.4" stroke="#1e1e1e" stroke-width="1.2"/>
<line x1="384.8" y1="254.9" x2="388" y2="254.9" stroke="#1e1e1e" stroke-width="1.2"/>
<line x1="461.7" y1="473.2" x2="461.7" y2="477.2" stroke="#222" stroke-width="1.1"/>
<line x1="535.4" y1="473.2" x2="535.4" y2="477.2" stroke="#222" stroke-width="1.1"/>
<line x1="609" y1="473.2" x2="609" y2="477.2" stroke="#222" stroke-width="1.1"/>
<line x1="682.5" y1="473.2" x2="682.5" y2="477.2" stroke="#222" stroke-width="1.1"/>
<text x="380.9" y="478.4" font-family="'Liberation Sans', sans-serif" font-size="12" font-weight="bold" text-anchor="end" fill="#111" textLength="4.8" lengthAdjust="spacingAndGlyphs">0</text>
<text x="380.9" y="455.4" font-family="'Liberation Sans', sans-serif" font-size="12" font-weight="bold" text-anchor="end" fill="#111" textLength="9.4" lengthAdjust="spacingAndGlyphs">15</text>
<text x="380.9" y="433" font-family="'Liberation Sans', sans-serif" font-size="12" font-weight="bold" text-anchor="end" fill="#111" textLength="9.4" lengthAdjust="spacingAndGlyphs">30</text>
<text x="380.9" y="411.3" font-family="'Liberation Sans', sans-serif" font-size="12" font-weight="bold" text-anchor="end" fill="#111" textLength="9.4" lengthAdjust="spacingAndGlyphs">45</text>
<text x="380.9" y="390.3" font-family="'Liberation Sans', sans-serif" font-size="12" font-weight="bold" text-anchor="end" fill="#111" textLength="9.4" lengthAdjust="spacingAndGlyphs">60</text>
<text x="380.9" y="369.5" font-family="'Liberation Sans', sans-serif" font-size="12" font-weight="bold" text-anchor="end" fill="#111" textLength="9.4" lengthAdjust="spacingAndGlyphs">75</text>
<text x="380.9" y="346.1" font-family="'Liberation Sans', sans-serif" font-size="12" font-weight="bold" text-anchor="end" fill="#111" textLength="9.4" lengthAdjust="spacingAndGlyphs">90</text>
<text x="380.9" y="325.7" font-family="'Liberation Sans', sans-serif" font-size="12" font-weight="bold" text-anchor="end" fill="#111" textLength="14.2" lengthAdjust="spacingAndGlyphs">105</text>
<text x="380.9" y="303.8" font-family="'Liberation Sans', sans-serif" font-size="12" font-weight="bold" text-anchor="end" fill="#111" textLength="14.2" lengthAdjust="spacingAndGlyphs">120</text>
<text x="380.9" y="281.6" font-family="'Liberation Sans', sans-serif" font-size="12" font-weight="bold" text-anchor="end" fill="#111" textLength="14.2" lengthAdjust="spacingAndGlyphs">135</text>
<text x="380.9" y="260.9" font-family="'Liberation Sans', sans-serif" font-size="12" font-weight="bold" text-anchor="end" fill="#111" textLength="14.2" lengthAdjust="spacingAndGlyphs">150</text>
<text transform="translate(360.7,358.05) rotate(-90)" x="0" y="0" font-family="'Liberation Sans', sans-serif" font-size="8.8" font-weight="bold" text-anchor="middle" fill="#111" textLength="145.1" lengthAdjust="spacingAndGlyphs">Compressive strength, MPa</text>
<text x="393.9" y="268.3" font-family="'Liberation Serif', serif" font-size="12" font-weight="bold" text-anchor="start" fill="#111" textLength="12.1" lengthAdjust="spacingAndGlyphs">(C)</text>
<text x="419.1" y="495.4" font-family="'Liberation Serif', serif" font-size="13.8" font-weight="bold" text-anchor="start" fill="#111" textLength="15.1" lengthAdjust="spacingAndGlyphs">PS1</text>
<text x="482.7" y="494.9" font-family="'Liberation Serif', serif" font-size="13.8" font-weight="bold" text-anchor="start" fill="#111" textLength="39.4" lengthAdjust="spacingAndGlyphs">PS1CF0.5</text>
<text x="561" y="494.9" font-family="'Liberation Serif', serif" font-size="13.8" font-weight="bold" text-anchor="start" fill="#111" textLength="32.5" lengthAdjust="spacingAndGlyphs">PS1CF1</text>
<text x="628.8" y="494.6" font-family="'Liberation Serif', serif" font-size="13.8" font-weight="bold" text-anchor="start" fill="#111" textLength="39.6" lengthAdjust="spacingAndGlyphs">PS1CF1.5</text>
<text x="516.5" y="526.6" font-family="'Liberation Sans', sans-serif" font-size="12.6" font-weight="bold" text-anchor="start" fill="#111" textLength="60.4" lengthAdjust="spacingAndGlyphs">Sample Code</text>
<line x1="40.8" y1="720" x2="345.7" y2="720" stroke="#ababab" stroke-width="1.6"/>
<line x1="40.8" y1="700.2" x2="345.7" y2="700.2" stroke="#ababab" stroke-width="1.6"/>
<line x1="40.8" y1="679.2" x2="345.7" y2="679.2" stroke="#ababab" stroke-width="1.6"/>
<line x1="40.8" y1="659.1" x2="345.7" y2="659.1" stroke="#ababab" stroke-width="1.6"/>
<line x1="40.8" y1="638.2" x2="345.7" y2="638.2" stroke="#ababab" stroke-width="1.6"/>
<line x1="40.8" y1="618" x2="345.7" y2="618" stroke="#ababab" stroke-width="1.6"/>
<line x1="40.8" y1="598.2" x2="345.7" y2="598.2" stroke="#ababab" stroke-width="1.6"/>
<line x1="40.8" y1="577.6" x2="345.7" y2="577.6" stroke="#ababab" stroke-width="1.6"/>
<line x1="40.8" y1="558.6" x2="345.7" y2="558.6" stroke="#ababab" stroke-width="1.6"/>
<line x1="40.8" y1="538.4" x2="345.7" y2="538.4" stroke="#ababab" stroke-width="1.6"/>
<line x1="345.7" y1="537.9" x2="345.7" y2="743.9" stroke="#8e8e8e" stroke-width="1.4"/>
<rect x="98.1" y="547.5" width="240.1" height="16.4" fill="#0a0a0a" stroke="none" stroke-width="0"/>
<rect x="96.7" y="546.1" width="240.1" height="16.4" fill="#ffffff" stroke="#777" stroke-width="0.9"/>
<rect x="119.8" y="552.1" width="4.8" height="6.1" fill="#0000ff" stroke="none" stroke-width="0"/>
<text x="126.5" y="558.8" font-family="'Liberation Serif', serif" font-size="12.5" font-weight="bold" text-anchor="start" fill="#111" textLength="17.6" lengthAdjust="spacingAndGlyphs">28 d</text>
<rect x="191.6" y="552.1" width="4.8" height="6.1" fill="#ff0000" stroke="none" stroke-width="0"/>
<text x="198.6" y="558.8" font-family="'Liberation Serif', serif" font-size="12.5" font-weight="bold" text-anchor="start" fill="#111" textLength="17.4" lengthAdjust="spacingAndGlyphs">60 d</text>
<rect x="275.7" y="552.1" width="4.8" height="6.1" fill="#ffff00" stroke="#8a8a20" stroke-width="0.6"/>
<text x="282.7" y="558.8" font-family="'Liberation Serif', serif" font-size="12.5" font-weight="bold" text-anchor="start" fill="#111" textLength="17.7" lengthAdjust="spacingAndGlyphs">90 d</text>
<rect x="53.4" y="728.1" width="16.8" height="11.8" fill="#0000ff" stroke="none" stroke-width="0"/>
<line x1="61.8" y1="727" x2="61.8" y2="729.2" stroke="#2a2a2a" stroke-width="0.7"/>
<line x1="60.5" y1="727" x2="63.1" y2="727" stroke="#2a2a2a" stroke-width="0.7"/>
<line x1="60.5" y1="729.2" x2="63.1" y2="729.2" stroke="#2a2a2a" stroke-width="0.7"/>
<rect x="70.45" y="704.25" width="16.5" height="35.65" fill="#ff0000" stroke="#5a1010" stroke-width="0.5"/>
<line x1="78.7" y1="701.1" x2="78.7" y2="706.2" stroke="#2a2a2a" stroke-width="0.7"/>
<line x1="77.4" y1="701.1" x2="80" y2="701.1" stroke="#2a2a2a" stroke-width="0.7"/>
<line x1="77.4" y1="706.2" x2="80" y2="706.2" stroke="#2a2a2a" stroke-width="0.7"/>
<rect x="87.55" y="694.85" width="16" height="45.05" fill="#ffff00" stroke="#7a7a40" stroke-width="0.7"/>
<line x1="87.2" y1="694.7" x2="103.9" y2="694.7" stroke="#707070" stroke-width="1"/>
<line x1="95.55" y1="692" x2="95.55" y2="697.4" stroke="#2a2a2a" stroke-width="0.7"/>
<line x1="94.25" y1="692" x2="96.85" y2="692" stroke="#2a2a2a" stroke-width="0.7"/>
<line x1="94.25" y1="697.4" x2="96.85" y2="697.4" stroke="#2a2a2a" stroke-width="0.7"/>
<rect x="129.9" y="705.9" width="16.7" height="34" fill="#0000ff" stroke="none" stroke-width="0"/>
<line x1="138.25" y1="703.1" x2="138.25" y2="709.6" stroke="#2a2a2a" stroke-width="0.7"/>
<line x1="136.95" y1="703.1" x2="139.55" y2="703.1" stroke="#2a2a2a" stroke-width="0.7"/>
<line x1="136.95" y1="709.6" x2="139.55" y2="709.6" stroke="#2a2a2a" stroke-width="0.7"/>
<rect x="146.85" y="685.55" width="16.2" height="54.35" fill="#ff0000" stroke="#5a1010" stroke-width="0.5"/>
<line x1="154.95" y1="680" x2="154.95" y2="690.4" stroke="#2a2a2a" stroke-width="0.7"/>
<line x1="153.65" y1="680" x2="156.25" y2="680" stroke="#2a2a2a" stroke-width="0.7"/>
<line x1="153.65" y1="690.4" x2="156.25" y2="690.4" stroke="#2a2a2a" stroke-width="0.7"/>
<rect x="163.65" y="671.85" width="15.5" height="68.05" fill="#ffff00" stroke="#7a7a40" stroke-width="0.7"/>
<line x1="163.3" y1="671.7" x2="179.5" y2="671.7" stroke="#707070" stroke-width="1"/>
<line x1="171.4" y1="666" x2="171.4" y2="676.7" stroke="#2a2a2a" stroke-width="0.7"/>
<line x1="170.1" y1="666" x2="172.7" y2="666" stroke="#2a2a2a" stroke-width="0.7"/>
<line x1="170.1" y1="676.7" x2="172.7" y2="676.7" stroke="#2a2a2a" stroke-width="0.7"/>
<rect x="205.7" y="697.4" width="16.9" height="42.5" fill="#0000ff" stroke="none" stroke-width="0"/>
<line x1="214.15" y1="693.1" x2="214.15" y2="701.6" stroke="#2a2a2a" stroke-width="0.7"/>
<line x1="212.85" y1="693.1" x2="215.45" y2="693.1" stroke="#2a2a2a" stroke-width="0.7"/>
<line x1="212.85" y1="701.6" x2="215.45" y2="701.6" stroke="#2a2a2a" stroke-width="0.7"/>
<rect x="222.85" y="676.05" width="16.5" height="63.85" fill="#ff0000" stroke="#5a1010" stroke-width="0.5"/>
<line x1="231.1" y1="669.2" x2="231.1" y2="682.6" stroke="#2a2a2a" stroke-width="0.7"/>
<line x1="229.8" y1="669.2" x2="232.4" y2="669.2" stroke="#2a2a2a" stroke-width="0.7"/>
<line x1="229.8" y1="682.6" x2="232.4" y2="682.6" stroke="#2a2a2a" stroke-width="0.7"/>
<rect x="239.95" y="663.85" width="15.8" height="76.05" fill="#ffff00" stroke="#7a7a40" stroke-width="0.7"/>
<line x1="239.6" y1="663.7" x2="256.1" y2="663.7" stroke="#707070" stroke-width="1"/>
<line x1="247.85" y1="655.5" x2="247.85" y2="671.5" stroke="#2a2a2a" stroke-width="0.7"/>
<line x1="246.55" y1="655.5" x2="249.15" y2="655.5" stroke="#2a2a2a" stroke-width="0.7"/>
<line x1="246.55" y1="671.5" x2="249.15" y2="671.5" stroke="#2a2a2a" stroke-width="0.7"/>
<rect x="282.1" y="682.6" width="16.8" height="57.3" fill="#0000ff" stroke="none" stroke-width="0"/>
<line x1="290.5" y1="676.6" x2="290.5" y2="688.5" stroke="#2a2a2a" stroke-width="0.7"/>
<line x1="289.2" y1="676.6" x2="291.8" y2="676.6" stroke="#2a2a2a" stroke-width="0.7"/>
<line x1="289.2" y1="688.5" x2="291.8" y2="688.5" stroke="#2a2a2a" stroke-width="0.7"/>
<rect x="299.15" y="666.95" width="16" height="72.95" fill="#ff0000" stroke="#5a1010" stroke-width="0.5"/>
<line x1="307.15" y1="658.2" x2="307.15" y2="675.1" stroke="#2a2a2a" stroke-width="0.7"/>
<line x1="305.85" y1="658.2" x2="308.45" y2="658.2" stroke="#2a2a2a" stroke-width="0.7"/>
<line x1="305.85" y1="675.1" x2="308.45" y2="675.1" stroke="#2a2a2a" stroke-width="0.7"/>
<rect x="315.75" y="652.65" width="16.2" height="87.25" fill="#ffff00" stroke="#7a7a40" stroke-width="0.7"/>
<line x1="315.4" y1="652.5" x2="332.3" y2="652.5" stroke="#707070" stroke-width="1"/>
<line x1="323.85" y1="645.5" x2="323.85" y2="662.9" stroke="#2a2a2a" stroke-width="0.7"/>
<line x1="322.55" y1="645.5" x2="325.15" y2="645.5" stroke="#2a2a2a" stroke-width="0.7"/>
<line x1="322.55" y1="662.9" x2="325.15" y2="662.9" stroke="#2a2a2a" stroke-width="0.7"/>
<line x1="40.8" y1="537.6" x2="40.8" y2="744.2" stroke="#1e1e1e" stroke-width="1.5"/>
<line x1="40.1" y1="739.9" x2="345.7" y2="739.9" stroke="#262626" stroke-width="1.3"/>
<line x1="37.6" y1="739.9" x2="40.8" y2="739.9" stroke="#1e1e1e" stroke-width="1.2"/>
<line x1="37.6" y1="720" x2="40.8" y2="720" stroke="#1e1e1e" stroke-width="1.2"/>
<line x1="37.6" y1="700.2" x2="40.8" y2="700.2" stroke="#1e1e1e" stroke-width="1.2"/>
<line x1="37.6" y1="679.2" x2="40.8" y2="679.2" stroke="#1e1e1e" stroke-width="1.2"/>
<line x1="37.6" y1="659.1" x2="40.8" y2="659.1" stroke="#1e1e1e" stroke-width="1.2"/>
<line x1="37.6" y1="638.2" x2="40.8" y2="638.2" stroke="#1e1e1e" stroke-width="1.2"/>
<line x1="37.6" y1="618" x2="40.8" y2="618" stroke="#1e1e1e" stroke-width="1.2"/>
<line x1="37.6" y1="598.2" x2="40.8" y2="598.2" stroke="#1e1e1e" stroke-width="1.2"/>
<line x1="37.6" y1="577.6" x2="40.8" y2="577.6" stroke="#1e1e1e" stroke-width="1.2"/>
<line x1="37.6" y1="558.6" x2="40.8" y2="558.6" stroke="#1e1e1e" stroke-width="1.2"/>
<line x1="37.6" y1="538.4" x2="40.8" y2="538.4" stroke="#1e1e1e" stroke-width="1.2"/>
<line x1="117.1" y1="739.9" x2="117.1" y2="743.9" stroke="#222" stroke-width="1.1"/>
<line x1="193" y1="739.9" x2="193" y2="743.9" stroke="#222" stroke-width="1.1"/>
<line x1="269" y1="739.9" x2="269" y2="743.9" stroke="#222" stroke-width="1.1"/>
<line x1="345.7" y1="739.9" x2="345.7" y2="743.9" stroke="#222" stroke-width="1.1"/>
<text x="33.2" y="744.48" font-family="'Liberation Sans', sans-serif" font-size="10.8" font-weight="bold" text-anchor="end" fill="#111" textLength="4.8" lengthAdjust="spacingAndGlyphs">0</text>
<text x="33.2" y="723.68" font-family="'Liberation Sans', sans-serif" font-size="10.8" font-weight="bold" text-anchor="end" fill="#111" textLength="9.4" lengthAdjust="spacingAndGlyphs">15</text>
<text x="33.2" y="703.98" font-family="'Liberation Sans', sans-serif" font-size="10.8" font-weight="bold" text-anchor="end" fill="#111" textLength="9.4" lengthAdjust="spacingAndGlyphs">30</text>
<text x="33.2" y="682.58" font-family="'Liberation Sans', sans-serif" font-size="10.8" font-weight="bold" text-anchor="end" fill="#111" textLength="9.4" lengthAdjust="spacingAndGlyphs">45</text>
<text x="33.2" y="662.48" font-family="'Liberation Sans', sans-serif" font-size="10.8" font-weight="bold" text-anchor="end" fill="#111" textLength="9.4" lengthAdjust="spacingAndGlyphs">60</text>
<text x="33.2" y="643.78" font-family="'Liberation Sans', sans-serif" font-size="10.8" font-weight="bold" text-anchor="end" fill="#111" textLength="9.4" lengthAdjust="spacingAndGlyphs">75</text>
<text x="33.2" y="621.58" font-family="'Liberation Sans', sans-serif" font-size="10.8" font-weight="bold" text-anchor="end" fill="#111" textLength="9.4" lengthAdjust="spacingAndGlyphs">90</text>
<text x="33.2" y="602.78" font-family="'Liberation Sans', sans-serif" font-size="10.8" font-weight="bold" text-anchor="end" fill="#111" textLength="14.2" lengthAdjust="spacingAndGlyphs">105</text>
<text x="33.2" y="582.88" font-family="'Liberation Sans', sans-serif" font-size="10.8" font-weight="bold" text-anchor="end" fill="#111" textLength="14.2" lengthAdjust="spacingAndGlyphs">120</text>
<text x="33.2" y="563.38" font-family="'Liberation Sans', sans-serif" font-size="10.8" font-weight="bold" text-anchor="end" fill="#111" textLength="14.2" lengthAdjust="spacingAndGlyphs">135</text>
<text x="33.2" y="544.18" font-family="'Liberation Sans', sans-serif" font-size="10.8" font-weight="bold" text-anchor="end" fill="#111" textLength="14.2" lengthAdjust="spacingAndGlyphs">150</text>
<text transform="translate(11.8,633) rotate(-90)" x="0" y="0" font-family="'Liberation Sans', sans-serif" font-size="8.8" font-weight="bold" text-anchor="middle" fill="#111" textLength="133.8" lengthAdjust="spacingAndGlyphs">Compressive strength, MPa</text>
<text x="46" y="550" font-family="'Liberation Serif', serif" font-size="12" font-weight="bold" text-anchor="start" fill="#111" textLength="13.3" lengthAdjust="spacingAndGlyphs">(D)</text>
<text x="71.1" y="759.2" font-family="'Liberation Serif', serif" font-size="12.9" font-weight="bold" text-anchor="start" fill="#111" textLength="16.1" lengthAdjust="spacingAndGlyphs">PS2</text>
<text x="135.1" y="758.7" font-family="'Liberation Serif', serif" font-size="12.9" font-weight="bold" text-anchor="start" fill="#111" textLength="40.4" lengthAdjust="spacingAndGlyphs">PS2CF0.5</text>
<text x="214.4" y="759.2" font-family="'Liberation Serif', serif" font-size="12.9" font-weight="bold" text-anchor="start" fill="#111" textLength="34" lengthAdjust="spacingAndGlyphs">PS2CF1</text>
<text x="290" y="757.7" font-family="'Liberation Serif', serif" font-size="12.9" font-weight="bold" text-anchor="start" fill="#111" textLength="40.8" lengthAdjust="spacingAndGlyphs">PS2CF1.5</text>
<text x="159.6" y="784.6" font-family="'Liberation Sans', sans-serif" font-size="12.6" font-weight="bold" text-anchor="start" fill="#111" textLength="61.6" lengthAdjust="spacingAndGlyphs">Sample Code</text>
<line x1="392.7" y1="720.2" x2="683.3" y2="720.2" stroke="#ababab" stroke-width="1.6"/>
<line x1="392.7" y1="700.3" x2="683.3" y2="700.3" stroke="#ababab" stroke-width="1.6"/>
<line x1="392.7" y1="680.2" x2="683.3" y2="680.2" stroke="#ababab" stroke-width="1.6"/>
<line x1="392.7" y1="660.3" x2="683.3" y2="660.3" stroke="#ababab" stroke-width="1.6"/>
<line x1="392.7" y1="639.6" x2="683.3" y2="639.6" stroke="#ababab" stroke-width="1.6"/>
<line x1="392.7" y1="619.1" x2="683.3" y2="619.1" stroke="#ababab" stroke-width="1.6"/>
<line x1="392.7" y1="599.2" x2="683.3" y2="599.2" stroke="#ababab" stroke-width="1.6"/>
<line x1="392.7" y1="579" x2="683.3" y2="579" stroke="#ababab" stroke-width="1.6"/>
<line x1="392.7" y1="559" x2="683.3" y2="559" stroke="#ababab" stroke-width="1.6"/>
<line x1="392.7" y1="539.1" x2="683.3" y2="539.1" stroke="#ababab" stroke-width="1.6"/>
<line x1="683.3" y1="540.6" x2="683.3" y2="744.6" stroke="#636363" stroke-width="1.4"/>
<rect x="448.9" y="555.4" width="228.8" height="16.8" fill="#0a0a0a" stroke="none" stroke-width="0"/>
<rect x="447.5" y="554" width="228.8" height="16.8" fill="#ffffff" stroke="#777" stroke-width="0.9"/>
<rect x="470" y="559.4" width="4.8" height="6.3" fill="#0000ff" stroke="none" stroke-width="0"/>
<text x="476.3" y="567" font-family="'Liberation Serif', serif" font-size="12.5" font-weight="bold" text-anchor="start" fill="#111" textLength="16.5" lengthAdjust="spacingAndGlyphs">28 d</text>
<rect x="537.6" y="559.4" width="4.8" height="6.3" fill="#ff0000" stroke="none" stroke-width="0"/>
<text x="545.3" y="567" font-family="'Liberation Serif', serif" font-size="12.5" font-weight="bold" text-anchor="start" fill="#111" textLength="16.1" lengthAdjust="spacingAndGlyphs">60 d</text>
<rect x="618.3" y="559.4" width="4.8" height="6.3" fill="#ffff00" stroke="#8a8a20" stroke-width="0.6"/>
<text x="625.5" y="567" font-family="'Liberation Serif', serif" font-size="12.5" font-weight="bold" text-anchor="start" fill="#111" textLength="16.1" lengthAdjust="spacingAndGlyphs">90 d</text>
<rect x="405.5" y="726.9" width="16" height="13.7" fill="#0000ff" stroke="none" stroke-width="0"/>
<line x1="413.5" y1="723.8" x2="413.5" y2="729.9" stroke="#2a2a2a" stroke-width="0.7"/>
<line x1="412.2" y1="723.8" x2="414.8" y2="723.8" stroke="#2a2a2a" stroke-width="0.7"/>
<line x1="412.2" y1="729.9" x2="414.8" y2="729.9" stroke="#2a2a2a" stroke-width="0.7"/>
<rect x="421.75" y="696.85" width="15.6" height="43.75" fill="#ff0000" stroke="#5a1010" stroke-width="0.5"/>
<line x1="429.55" y1="694.2" x2="429.55" y2="699.3" stroke="#2a2a2a" stroke-width="0.7"/>
<line x1="428.25" y1="694.2" x2="430.85" y2="694.2" stroke="#2a2a2a" stroke-width="0.7"/>
<line x1="428.25" y1="699.3" x2="430.85" y2="699.3" stroke="#2a2a2a" stroke-width="0.7"/>
<rect x="437.95" y="687.95" width="15.3" height="52.65" fill="#ffff00" stroke="#7a7a40" stroke-width="0.7"/>
<line x1="437.6" y1="687.8" x2="453.6" y2="687.8" stroke="#707070" stroke-width="1"/>
<line x1="445.6" y1="684.6" x2="445.6" y2="690.7" stroke="#2a2a2a" stroke-width="0.7"/>
<line x1="444.3" y1="684.6" x2="446.9" y2="684.6" stroke="#2a2a2a" stroke-width="0.7"/>
<line x1="444.3" y1="690.7" x2="446.9" y2="690.7" stroke="#2a2a2a" stroke-width="0.7"/>
<rect x="481.2" y="706.8" width="15.9" height="33.8" fill="#0000ff" stroke="none" stroke-width="0"/>
<line x1="489.15" y1="704" x2="489.15" y2="709.9" stroke="#2a2a2a" stroke-width="0.7"/>
<line x1="487.85" y1="704" x2="490.45" y2="704" stroke="#2a2a2a" stroke-width="0.7"/>
<line x1="487.85" y1="709.9" x2="490.45" y2="709.9" stroke="#2a2a2a" stroke-width="0.7"/>
<rect x="497.35" y="686.65" width="15.2" height="53.95" fill="#ff0000" stroke="#5a1010" stroke-width="0.5"/>
<line x1="504.95" y1="680.9" x2="504.95" y2="691.1" stroke="#2a2a2a" stroke-width="0.7"/>
<line x1="503.65" y1="680.9" x2="506.25" y2="680.9" stroke="#2a2a2a" stroke-width="0.7"/>
<line x1="503.65" y1="691.1" x2="506.25" y2="691.1" stroke="#2a2a2a" stroke-width="0.7"/>
<rect x="513.15" y="675.75" width="15.3" height="64.85" fill="#ffff00" stroke="#7a7a40" stroke-width="0.7"/>
<line x1="512.8" y1="675.6" x2="528.8" y2="675.6" stroke="#707070" stroke-width="1"/>
<line x1="520.8" y1="669.8" x2="520.8" y2="680.5" stroke="#2a2a2a" stroke-width="0.7"/>
<line x1="519.5" y1="669.8" x2="522.1" y2="669.8" stroke="#2a2a2a" stroke-width="0.7"/>
<line x1="519.5" y1="680.5" x2="522.1" y2="680.5" stroke="#2a2a2a" stroke-width="0.7"/>
<rect x="553.1" y="700.3" width="16" height="40.3" fill="#0000ff" stroke="none" stroke-width="0"/>
<line x1="561.1" y1="696.2" x2="561.1" y2="704.7" stroke="#2a2a2a" stroke-width="0.7"/>
<line x1="559.8" y1="696.2" x2="562.4" y2="696.2" stroke="#2a2a2a" stroke-width="0.7"/>
<line x1="559.8" y1="704.7" x2="562.4" y2="704.7" stroke="#2a2a2a" stroke-width="0.7"/>
<rect x="569.35" y="677.35" width="15.6" height="63.25" fill="#ff0000" stroke="#5a1010" stroke-width="0.5"/>
<line x1="577.15" y1="670.2" x2="577.15" y2="683.3" stroke="#2a2a2a" stroke-width="0.7"/>
<line x1="575.85" y1="670.2" x2="578.45" y2="670.2" stroke="#2a2a2a" stroke-width="0.7"/>
<line x1="575.85" y1="683.3" x2="578.45" y2="683.3" stroke="#2a2a2a" stroke-width="0.7"/>
<rect x="585.55" y="660.65" width="15.5" height="79.95" fill="#ffff00" stroke="#7a7a40" stroke-width="0.7"/>
<line x1="585.2" y1="660.5" x2="601.4" y2="660.5" stroke="#707070" stroke-width="1"/>
<line x1="593.3" y1="654.5" x2="593.3" y2="665.2" stroke="#2a2a2a" stroke-width="0.7"/>
<line x1="592" y1="654.5" x2="594.6" y2="654.5" stroke="#2a2a2a" stroke-width="0.7"/>
<line x1="592" y1="665.2" x2="594.6" y2="665.2" stroke="#2a2a2a" stroke-width="0.7"/>
<rect x="627" y="683" width="15.8" height="57.6" fill="#0000ff" stroke="none" stroke-width="0"/>
<line x1="634.9" y1="677" x2="634.9" y2="688.4" stroke="#2a2a2a" stroke-width="0.7"/>
<line x1="633.6" y1="677" x2="636.2" y2="677" stroke="#2a2a2a" stroke-width="0.7"/>
<line x1="633.6" y1="688.4" x2="636.2" y2="688.4" stroke="#2a2a2a" stroke-width="0.7"/>
<rect x="643.05" y="670.55" width="15.1" height="70.05" fill="#ff0000" stroke="#5a1010" stroke-width="0.5"/>
<line x1="650.6" y1="663.3" x2="650.6" y2="677" stroke="#2a2a2a" stroke-width="0.7"/>
<line x1="649.3" y1="663.3" x2="651.9" y2="663.3" stroke="#2a2a2a" stroke-width="0.7"/>
<line x1="649.3" y1="677" x2="651.9" y2="677" stroke="#2a2a2a" stroke-width="0.7"/>
<rect x="658.75" y="651.05" width="15.5" height="89.55" fill="#ffff00" stroke="#7a7a40" stroke-width="0.7"/>
<line x1="658.4" y1="650.9" x2="674.6" y2="650.9" stroke="#707070" stroke-width="1"/>
<line x1="666.5" y1="644.1" x2="666.5" y2="661.4" stroke="#2a2a2a" stroke-width="0.7"/>
<line x1="665.2" y1="644.1" x2="667.8" y2="644.1" stroke="#2a2a2a" stroke-width="0.7"/>
<line x1="665.2" y1="661.4" x2="667.8" y2="661.4" stroke="#2a2a2a" stroke-width="0.7"/>
<line x1="392.7" y1="538.3" x2="392.7" y2="744.9" stroke="#1e1e1e" stroke-width="1.5"/>
<line x1="392" y1="740.6" x2="683.3" y2="740.6" stroke="#262626" stroke-width="1.3"/>
<line x1="389.5" y1="740.6" x2="392.7" y2="740.6" stroke="#1e1e1e" stroke-width="1.2"/>
<line x1="389.5" y1="720.2" x2="392.7" y2="720.2" stroke="#1e1e1e" stroke-width="1.2"/>
<line x1="389.5" y1="700.3" x2="392.7" y2="700.3" stroke="#1e1e1e" stroke-width="1.2"/>
<line x1="389.5" y1="680.2" x2="392.7" y2="680.2" stroke="#1e1e1e" stroke-width="1.2"/>
<line x1="389.5" y1="660.3" x2="392.7" y2="660.3" stroke="#1e1e1e" stroke-width="1.2"/>
<line x1="389.5" y1="639.6" x2="392.7" y2="639.6" stroke="#1e1e1e" stroke-width="1.2"/>
<line x1="389.5" y1="619.1" x2="392.7" y2="619.1" stroke="#1e1e1e" stroke-width="1.2"/>
<line x1="389.5" y1="599.2" x2="392.7" y2="599.2" stroke="#1e1e1e" stroke-width="1.2"/>
<line x1="389.5" y1="579" x2="392.7" y2="579" stroke="#1e1e1e" stroke-width="1.2"/>
<line x1="389.5" y1="559" x2="392.7" y2="559" stroke="#1e1e1e" stroke-width="1.2"/>
<line x1="389.5" y1="539.1" x2="392.7" y2="539.1" stroke="#1e1e1e" stroke-width="1.2"/>
<line x1="465.8" y1="740.6" x2="465.8" y2="744.6" stroke="#222" stroke-width="1.1"/>
<line x1="538.7" y1="740.6" x2="538.7" y2="744.6" stroke="#222" stroke-width="1.1"/>
<line x1="610.9" y1="740.6" x2="610.9" y2="744.6" stroke="#222" stroke-width="1.1"/>
<line x1="683.3" y1="740.6" x2="683.3" y2="744.6" stroke="#222" stroke-width="1.1"/>
<text x="386" y="744.78" font-family="'Liberation Sans', sans-serif" font-size="10.8" font-weight="bold" text-anchor="end" fill="#111" textLength="4.8" lengthAdjust="spacingAndGlyphs">0</text>
<text x="386" y="724.58" font-family="'Liberation Sans', sans-serif" font-size="10.8" font-weight="bold" text-anchor="end" fill="#111" textLength="9.4" lengthAdjust="spacingAndGlyphs">15</text>
<text x="386" y="704.58" font-family="'Liberation Sans', sans-serif" font-size="10.8" font-weight="bold" text-anchor="end" fill="#111" textLength="9.4" lengthAdjust="spacingAndGlyphs">30</text>
<text x="386" y="683.88" font-family="'Liberation Sans', sans-serif" font-size="10.8" font-weight="bold" text-anchor="end" fill="#111" textLength="9.4" lengthAdjust="spacingAndGlyphs">45</text>
<text x="386" y="663.78" font-family="'Liberation Sans', sans-serif" font-size="10.8" font-weight="bold" text-anchor="end" fill="#111" textLength="9.4" lengthAdjust="spacingAndGlyphs">60</text>
<text x="386" y="644.78" font-family="'Liberation Sans', sans-serif" font-size="10.8" font-weight="bold" text-anchor="end" fill="#111" textLength="9.4" lengthAdjust="spacingAndGlyphs">75</text>
<text x="386" y="622.68" font-family="'Liberation Sans', sans-serif" font-size="10.8" font-weight="bold" text-anchor="end" fill="#111" textLength="9.4" lengthAdjust="spacingAndGlyphs">90</text>
<text x="386" y="603.78" font-family="'Liberation Sans', sans-serif" font-size="10.8" font-weight="bold" text-anchor="end" fill="#111" textLength="14.2" lengthAdjust="spacingAndGlyphs">105</text>
<text x="386" y="583.98" font-family="'Liberation Sans', sans-serif" font-size="10.8" font-weight="bold" text-anchor="end" fill="#111" textLength="14.2" lengthAdjust="spacingAndGlyphs">120</text>
<text x="386" y="564.08" font-family="'Liberation Sans', sans-serif" font-size="10.8" font-weight="bold" text-anchor="end" fill="#111" textLength="14.2" lengthAdjust="spacingAndGlyphs">135</text>
<text x="386" y="544.68" font-family="'Liberation Sans', sans-serif" font-size="10.8" font-weight="bold" text-anchor="end" fill="#111" textLength="14.2" lengthAdjust="spacingAndGlyphs">150</text>
<text transform="translate(365.8,634.2) rotate(-90)" x="0" y="0" font-family="'Liberation Sans', sans-serif" font-size="8.8" font-weight="bold" text-anchor="middle" fill="#111" textLength="133" lengthAdjust="spacingAndGlyphs">Compressive strength, MPa</text>
<text x="401.8" y="551.3" font-family="'Liberation Serif', serif" font-size="12" font-weight="bold" text-anchor="start" fill="#111" textLength="11.9" lengthAdjust="spacingAndGlyphs">(E)</text>
<text x="423.7" y="759.9" font-family="'Liberation Serif', serif" font-size="13.8" font-weight="bold" text-anchor="start" fill="#111" textLength="14.7" lengthAdjust="spacingAndGlyphs">PS3</text>
<text x="482.2" y="762" font-family="'Liberation Serif', serif" font-size="13.8" font-weight="bold" text-anchor="start" fill="#111" textLength="38.7" lengthAdjust="spacingAndGlyphs">PS3CF0.5</text>
<text x="562.8" y="760.8" font-family="'Liberation Serif', serif" font-size="13.8" font-weight="bold" text-anchor="start" fill="#111" textLength="31.5" lengthAdjust="spacingAndGlyphs">PS3CF1</text>
<text x="628.2" y="759.8" font-family="'Liberation Serif', serif" font-size="13.8" font-weight="bold" text-anchor="start" fill="#111" textLength="39.1" lengthAdjust="spacingAndGlyphs">PS3CF1.5</text>
<text x="507.6" y="785.4" font-family="'Liberation Sans', sans-serif" font-size="12.6" font-weight="bold" text-anchor="start" fill="#111" textLength="59.2" lengthAdjust="spacingAndGlyphs">Sample Code</text>
</svg>
</body></html>
